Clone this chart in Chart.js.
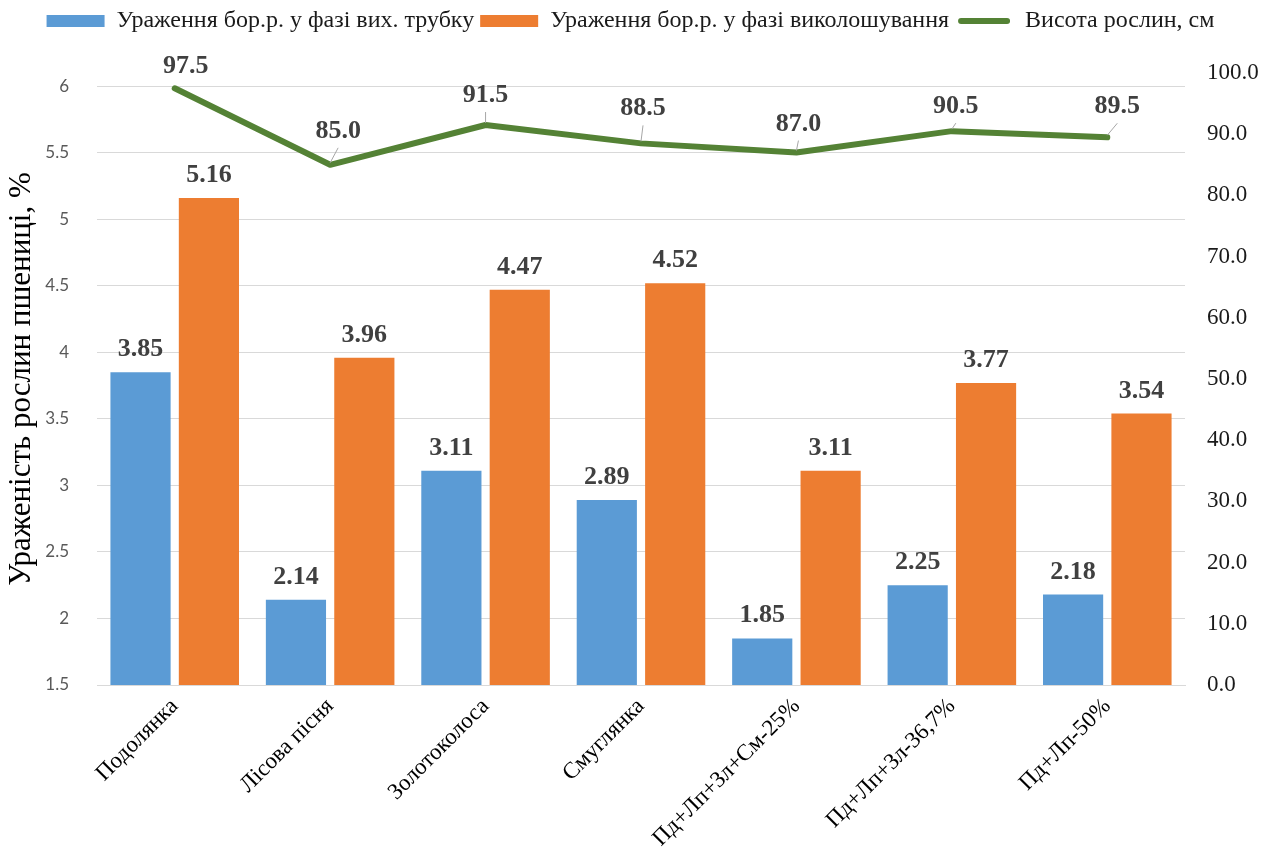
<!DOCTYPE html>
<html><head><meta charset="utf-8">
<script src="https://cdn.jsdelivr.net/npm/chart.js@4.4.1/dist/chart.umd.min.js"></script>
<style>html,body{margin:0;padding:0;background:#fff;}#wrap{width:1261px;height:856px;position:relative;}</style>
</head><body><div id="wrap"><canvas id="c"></canvas></div>
<script>
const categories = ['Подолянка','Лісова пісня','Золотоколоса','Смуглянка','Пд+Лп+Зл+См-25%','Пд+Лп+Зл-36,7%','Пд+Лп-50%'];
const seriesNames = ['Ураження бор.р. у фазі вих. трубку','Ураження бор.р. у фазі виколошування','Висота рослин, см'];
const damageTubeStage = [3.85, 2.14, 3.11, 2.89, 1.85, 2.25, 2.18];
const damageHeadingStage = [5.16, 3.96, 4.47, 4.52, 3.11, 3.77, 3.54];
const plantHeight = [97.5, 85.0, 91.5, 88.5, 87.0, 90.5, 89.5];
const leftTicks = [1.5, 2, 2.5, 3, 3.5, 4, 4.5, 5, 5.5, 6];
const rightTicks = [0, 10, 20, 30, 40, 50, 60, 70, 80, 90, 100];
const yTitle = 'Ураженість рослин пшениці, %';

// label placement styling for the line labels (pixel offsets)
const lineLabelDx = [11, 8, 0, 2, 2, 4, 10];
const lineLabelDy = [-15, -27, -23, -28, -22, -18, -24];
const lineLeader = [false, true, true, true, true, true, true];

const SERIF = '"Liberation Serif", "Times New Roman", serif';
const BLUE = '#5B9BD5', ORANGE = '#ED7D31', GREEN = '#548235';

const valueLabels = {
  id: 'valueLabels',
  afterDatasetsDraw(chart) {
    const ctx = chart.ctx;
    ctx.save();
    ctx.font = 'bold 26px ' + SERIF;
    ctx.fillStyle = '#404040';
    ctx.textAlign = 'center';
    ctx.textBaseline = 'alphabetic';
    chart.data.datasets.forEach((ds, di) => {
      const meta = chart.getDatasetMeta(di);
      meta.data.forEach((el, i) => {
        const v = ds.data[i];
        if (ds.type === 'line') {
          const lx = el.x + lineLabelDx[i];
          const by = el.y + lineLabelDy[i];
          if (lineLeader[i]) {
            ctx.save();
            ctx.strokeStyle = '#A6A6A6';
            ctx.lineWidth = 1;
            ctx.beginPath();
            ctx.moveTo(lx, by + 10);
            ctx.lineTo(el.x, el.y - 2);
            ctx.stroke();
            ctx.restore();
          }
          ctx.fillText(v.toFixed(1), lx, by);
        } else {
          ctx.fillText(v.toFixed(2), el.x, el.y - 16);
        }
      });
    });
    ctx.restore();
  }
};

// keep legend band a fixed height so the plot area starts where the reference's does
const legendBand = {
  id: 'legendBand',
  beforeLayout(chart) {
    const lg = chart.legend;
    if (lg && !lg._bandPatched) {
      const orig = lg.fit.bind(lg);
      lg.fit = function () { orig(); this.height = 70; };
      lg._bandPatched = true;
    }
  }
};

new Chart(document.getElementById('c'), {
  type: 'bar',
  data: {
    labels: categories,
    datasets: [
      { label: seriesNames[0], data: damageTubeStage, backgroundColor: BLUE, yAxisID: 'y', categoryPercentage: 0.88, barPercentage: 0.88 },
      { label: seriesNames[1], data: damageHeadingStage, backgroundColor: ORANGE, yAxisID: 'y', categoryPercentage: 0.88, barPercentage: 0.88 },
      { type: 'line', label: seriesNames[2], data: plantHeight, borderColor: GREEN, backgroundColor: GREEN, borderWidth: 6,
        pointRadius: 0, pointHoverRadius: 0, fill: false, tension: 0, yAxisID: 'y1', borderCapStyle: 'round', borderJoinStyle: 'round' }
    ]
  },
  options: {
    responsive: true,
    maintainAspectRatio: false,
    animation: false,
    devicePixelRatio: 1,
    layout: { padding: { top: 3, left: 0, right: 0, bottom: 0 } },
    plugins: {
      tooltip: { enabled: false },
      legend: {
        position: 'top',
        labels: {
          boxWidth: 58, boxHeight: 12, padding: 6,
          font: { family: SERIF, size: 24 },
          color: '#1a1a1a',
          generateLabels(chart) {
            const items = Chart.defaults.plugins.legend.labels.generateLabels(chart);
            items.forEach(it => {
              const ds = chart.data.datasets[it.datasetIndex];
              if (ds.type === 'line') {
                it.fillStyle = GREEN; it.strokeStyle = '#ffffff'; it.lineWidth = 6; it.borderRadius = 6;
              } else {
                it.lineWidth = 0; it.strokeStyle = 'rgba(0,0,0,0)';
              }
              it.fontColor = '#1a1a1a';
            });
            return items;
          }
        }
      }
    },
    scales: {
      x: {
        grid: { display: false, drawTicks: false },
        border: { display: true, color: '#D9D9D9', width: 1 },
        ticks: { font: { family: SERIF, size: 23 }, color: '#000', minRotation: 45, maxRotation: 45, autoSkip: false, padding: 8 },
        afterFit(s) { s.height = 171; }
      },
      y: {
        position: 'left',
        min: 1.5, max: 6.1,
        afterBuildTicks(s) { s.ticks = leftTicks.map(v => ({ value: v })); },
        grid: { color: '#D9D9D9', lineWidth: 1, drawTicks: false },
        border: { display: false },
        ticks: { font: { family: 'Lato', size: 17 }, color: '#595959', padding: 28, callback: v => String(v) },
        title: { display: true, text: yTitle, font: { family: SERIF, size: 31 }, color: '#000', padding: { top: 3, bottom: 0 } },
        afterFit(s) { s.width = 97; }
      },
      y1: {
        position: 'right',
        min: 0, max: 100,
        afterBuildTicks(s) { s.ticks = rightTicks.map(v => ({ value: v })); },
        grid: { display: false, drawTicks: false },
        border: { display: false },
        ticks: { font: { family: SERIF, size: 23 }, color: '#1a1a1a', padding: 22, callback: v => Number(v).toFixed(1) },
        afterFit(s) { s.width = 76; }
      }
    }
  },
  plugins: [valueLabels, legendBand]
});
</script>
</body></html>
